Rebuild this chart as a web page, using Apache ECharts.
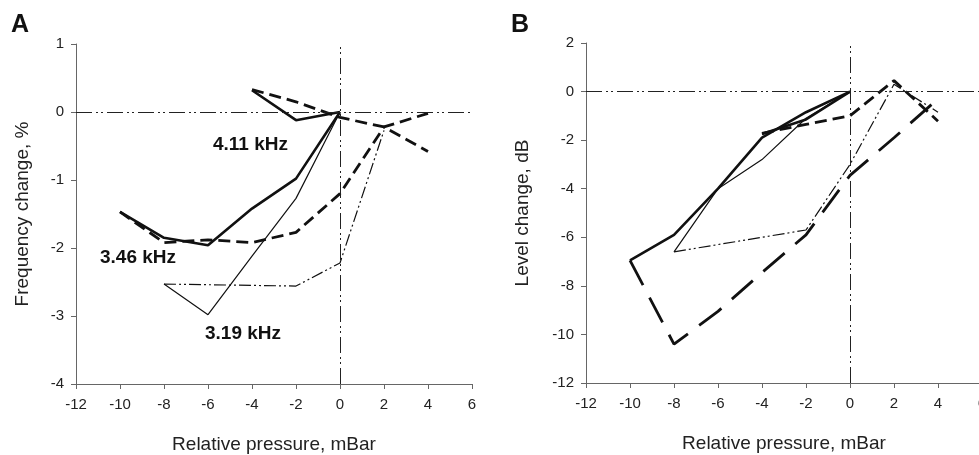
<!DOCTYPE html>
<html>
<head>
<meta charset="utf-8">
<script src="https://cdn.jsdelivr.net/npm/echarts@6/dist/echarts.min.js"></script>
<style>
  html, body { margin: 0; padding: 0; background: #fff; }
  #chart { width: 979px; height: 455px; }
</style>
</head>
<body>
<div id="chart"></div>
<script>
// 横轴刻度 (mBar)
const pressureTicks = [-12, -10, -8, -6, -4, -2, 0, 2, 4, 6];

// A: frequency change, %
const a411SolidX = [-4, -2, 0];
const a411SolidY = [0.32, -0.12, 0];
const a411DashX = [-4, -2, 0, 2, 4];
const a411DashY = [0.33, 0.15, -0.08, -0.22, -0.58];
const a346SolidX = [-10, -8, -6, -4, -2, 0];
const a346SolidY = [-1.47, -1.85, -1.96, -1.42, -0.98, 0];
const a346DashX = [-10, -8, -6, -4, -2, 0, 2, 4];
const a346DashY = [-1.47, -1.92, -1.88, -1.92, -1.77, -1.2, -0.22, -0.02];
const a319SolidX = [-8, -6, -4, -2, 0];
const a319SolidY = [-2.53, -2.98, -2.12, -1.27, 0];
const a319DotX = [-8, -6, -4, -2, 0, 2];
const a319DotY = [-2.53, -2.54, -2.55, -2.56, -2.22, -0.27];

// B: level change, dB
const b411SolidX = [-4, -2, 0];
const b411SolidY = [-1.75, -1.15, 0];
const b411DashX = [-4, -2, 0, 2, 4];
const b411DashY = [-1.72, -1.35, -1.0, 0.45, -1.22];
const b346SolidX = [-10, -8, -6, -4, -2, 0];
const b346SolidY = [-6.95, -5.9, -4.0, -1.9, -0.85, 0];
const b346DashX = [-10, -8, -6, -4, -2, 0, 2, 4];
const b346DashY = [-6.95, -10.4, -9.05, -7.45, -5.9, -3.45, -1.9, -0.3];
const b319SolidX = [-8, -6, -4, -2, 0];
const b319SolidY = [-6.6, -4.0, -2.8, -1.1, 0];
const b319DotX = [-8, -6, -4, -2, 0, 2, 4];
const b319DotY = [-6.6, -6.3, -6.0, -5.7, -3.0, 0.3, -0.85];

const font = 'Liberation Sans, Arial, sans-serif';
const ink = '#111';
const refDash = [16, 4, 2, 3, 2, 4];   // 点划线样式

const chart = echarts.init(document.getElementById('chart'));

// 把 x、y 两个数组合成点
function pts(xs, ys) {
  return xs.map((x, i) => [x, ys[i]]);
}

function line(idx, xs, ys, width, type) {
  return {
    type: 'line',
    xAxisIndex: idx,
    yAxisIndex: idx,
    data: pts(xs, ys),
    showSymbol: false,
    symbol: 'none',
    lineStyle: { color: ink, width: width, type: type },
    z: 3
  };
}

// 零位参考线
function refLines(idx) {
  return {
    type: 'line',
    xAxisIndex: idx,
    yAxisIndex: idx,
    data: [],
    markLine: {
      silent: true,
      symbol: 'none',
      label: { show: false },
      lineStyle: { color: '#222', width: 1, type: refDash },
      data: [{ xAxis: 0 }, { yAxis: 0 }]
    },
    z: 2
  };
}

function xAxisOf(idx) {
  return {
    type: 'value',
    gridIndex: idx,
    min: -12, max: 6, interval: 2,
    name: 'Relative pressure, mBar',
    nameLocation: 'middle',
    nameGap: 51,
    nameTextStyle: { fontFamily: font, fontSize: 19, color: '#222' },
    axisLine: { onZero: false, lineStyle: { color: '#666', width: 1 } },
    axisTick: { show: true, length: 5, lineStyle: { color: '#666' } },
    axisLabel: {
      fontFamily: font, fontSize: 15, color: '#222', margin: 13,
      formatter: v => pressureTicks.includes(v) ? String(v) : ''
    },
    splitLine: { show: false }
  };
}

function yAxisOf(idx, min, max, step, name, gap) {
  return {
    type: 'value',
    gridIndex: idx,
    min: min, max: max, interval: step,
    name: name,
    nameLocation: 'middle',
    nameGap: gap,
    nameTextStyle: { fontFamily: font, fontSize: 19, color: '#222' },
    axisLine: { onZero: false, lineStyle: { color: '#666', width: 1 } },
    axisTick: { show: true, length: 5, lineStyle: { color: '#666' } },
    axisLabel: { fontFamily: font, fontSize: 15, color: '#222', margin: 12 },
    splitLine: { show: false }
  };
}

function tag(text, x, y, size) {
  return {
    type: 'text',
    left: x,
    top: y,
    style: { text: text, font: 'bold ' + size + 'px ' + font, fill: '#111' }
  };
}

const option = {
  animation: false,
  backgroundColor: '#fff',
  grid: [
    { left: 76, top: 44, width: 396, height: 340, outerBoundsMode: 'none' },
    { left: 586, top: 43, width: 396, height: 340, outerBoundsMode: 'none' }
  ],
  xAxis: [xAxisOf(0), xAxisOf(1)],
  yAxis: [
    yAxisOf(0, -4, 1, 1, 'Frequency change, %', 44),
    yAxisOf(1, -12, 2, 2, 'Level change, dB', 54)
  ],
  graphic: [
    tag('A', 11, 13, 25),
    tag('B', 511, 13, 25),
    tag('4.11 kHz', 213, 135, 19),
    tag('3.46 kHz', 100, 248, 19),
    tag('3.19 kHz', 205, 324, 19)
  ],
  series: [
    refLines(0),
    line(0, a411SolidX, a411SolidY, 2.6, 'solid'),
    line(0, a411DashX, a411DashY, 2.8, [12, 6]),
    line(0, a346SolidX, a346SolidY, 2.6, 'solid'),
    line(0, a346DashX, a346DashY, 2.8, [12, 6]),
    line(0, a319SolidX, a319SolidY, 1.2, 'solid'),
    line(0, a319DotX, a319DotY, 1.2, [12, 3, 2, 3, 2, 3]),
    refLines(1),
    line(1, b411SolidX, b411SolidY, 2.6, 'solid'),
    line(1, b411DashX, b411DashY, 2.8, [12, 6]),
    line(1, b346SolidX, b346SolidY, 2.6, 'solid'),
    line(1, b346DashX, b346DashY, 2.8, [28, 14]),
    line(1, b319SolidX, b319SolidY, 1.2, 'solid'),
    line(1, b319DotX, b319DotY, 1.2, [12, 3, 2, 3, 2, 3])
  ]
};

chart.setOption(option);
</script>
</body>
</html>
